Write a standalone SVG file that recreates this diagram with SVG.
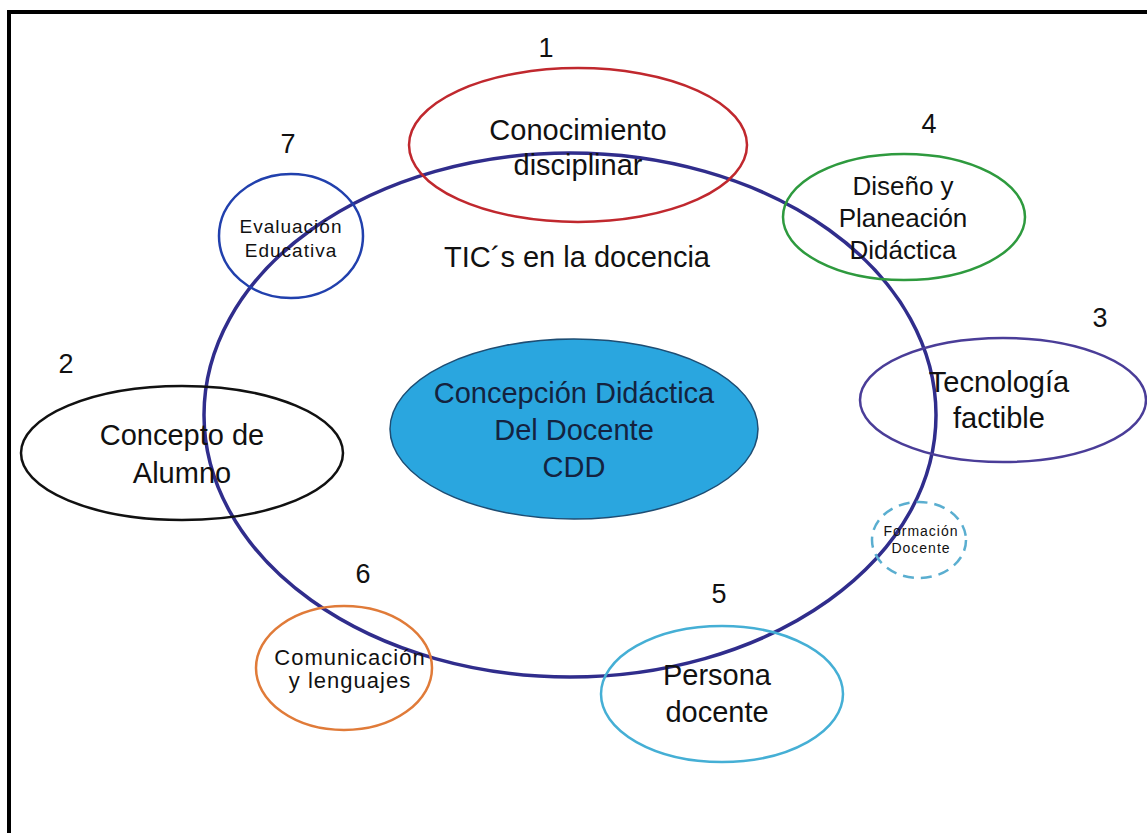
<svg xmlns="http://www.w3.org/2000/svg" width="1147" height="833" viewBox="0 0 1147 833">
<style>
text{font-family:"Liberation Sans",Arial,sans-serif;fill:#111;text-anchor:middle}
.big{font-size:29px}
.num{font-size:27px}
.node{fill:none;stroke-width:2.5}
</style>
<rect width="1147" height="833" fill="#fff"/>
<g id="frame">
<line x1="9" y1="12" x2="1147" y2="12" stroke="#000" stroke-width="4"/>
<line x1="9" y1="10" x2="9" y2="833" stroke="#000" stroke-width="4"/>
</g>
<g id="connectors">
<ellipse cx="570" cy="415" rx="366" ry="262" fill="none" stroke="#302d8c" stroke-width="3.5"/>
</g>
<g id="n1">
<ellipse class="node" cx="578" cy="145" rx="169" ry="77" stroke="#c0282e"/>
<text class="num" x="546" y="57">1</text>
<text class="big" x="578" y="140">Conocimiento</text>
<text class="big" x="578" y="175">disciplinar</text>
</g>
<g id="n7">
<ellipse class="node" cx="291" cy="236" rx="72" ry="62" stroke="#2140ad"/>
<text class="num" x="288" y="153">7</text>
<text x="291" y="233" style="font-size:19px;letter-spacing:1px">Evaluación</text>
<text x="291" y="257" style="font-size:19px;letter-spacing:1px">Educativa</text>
</g>
<g id="tic">
<text class="big" x="577" y="267">TIC´s en la docencia</text>
</g>
<g id="n4">
<ellipse class="node" cx="904" cy="217" rx="121" ry="63" stroke="#2e9a3e"/>
<text class="num" x="929" y="133">4</text>
<text x="903" y="195" style="font-size:26px">Diseño y</text>
<text x="903" y="227" style="font-size:26px">Planeación</text>
<text x="903" y="259" style="font-size:26px">Didáctica</text>
</g>
<g id="n3">
<ellipse class="node" cx="1003" cy="400" rx="143" ry="62" stroke="#4a3d98"/>
<text class="num" x="1100" y="327">3</text>
<text class="big" x="999" y="392">Tecnología</text>
<text class="big" x="999" y="428">factible</text>
</g>
<g id="n2">
<ellipse class="node" cx="182" cy="453" rx="161" ry="67" stroke="#111"/>
<text class="num" x="66" y="373">2</text>
<text class="big" x="182" y="445">Concepto de</text>
<text class="big" x="182" y="483">Alumno</text>
</g>
<g id="cdd">
<ellipse cx="574" cy="429" rx="184" ry="90" fill="#2aa6df" stroke="#1e4d73" stroke-width="1.5"/>
<text class="big" x="574" y="403" style="fill:#14233f">Concepción Didáctica</text>
<text class="big" x="574" y="440" style="fill:#14233f">Del Docente</text>
<text class="big" x="574" y="477" style="fill:#14233f">CDD</text>
</g>
<g id="formacion">
<ellipse cx="919" cy="540" rx="47" ry="38" fill="none" stroke="#5aaed0" stroke-width="2.5" stroke-dasharray="11 7"/>
<text x="921" y="536" style="font-size:14px;letter-spacing:1px">Formación</text>
<text x="921" y="553" style="font-size:14px;letter-spacing:1px">Docente</text>
</g>
<g id="n6">
<ellipse class="node" cx="344" cy="668" rx="88" ry="62" stroke="#e07b39"/>
<text class="num" x="363" y="583">6</text>
<text x="350" y="665" style="font-size:22px;letter-spacing:1px">Comunicación</text>
<text x="350" y="688" style="font-size:22px;letter-spacing:1px">y lenguajes</text>
</g>
<g id="n5">
<ellipse class="node" cx="722" cy="694" rx="121" ry="68" stroke="#45afd5"/>
<text class="num" x="719" y="603">5</text>
<text class="big" x="717" y="685">Persona</text>
<text class="big" x="717" y="722">docente</text>
</g>
</svg>
